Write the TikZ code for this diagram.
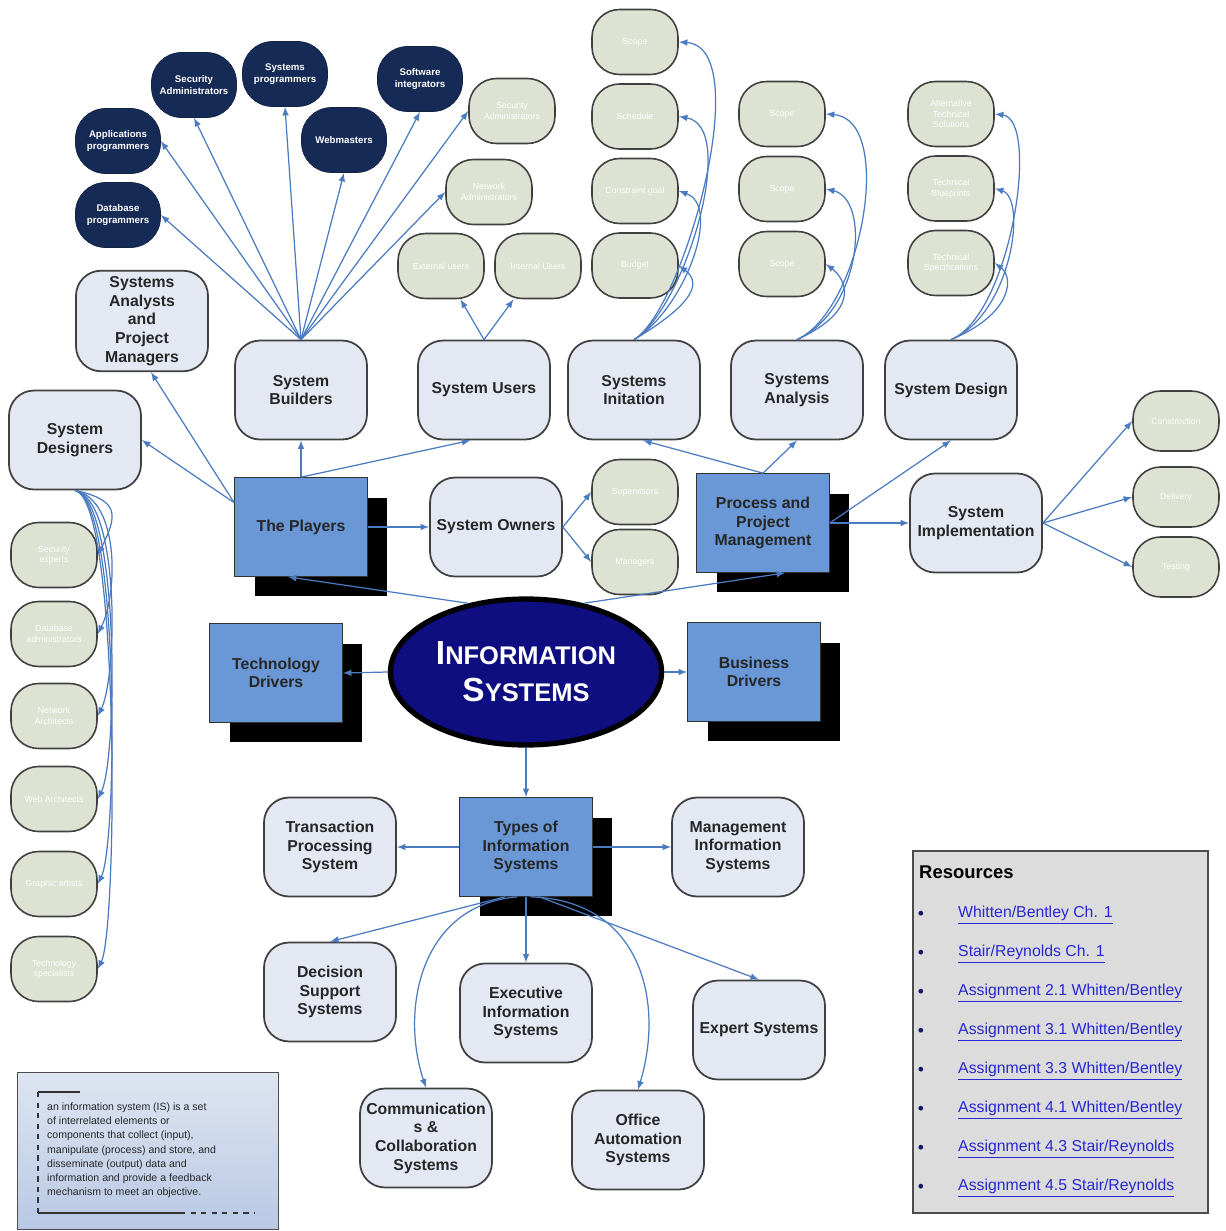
\documentclass[tikz,border=0pt]{standalone}
\usepackage{fontspec}
\setmainfont{Liberation Sans}
\usetikzlibrary{shapes.geometric,shadows}

\definecolor{topicblue}{RGB}{106,152,214}
\definecolor{rolefill}{RGB}{228,232,243}
\definecolor{leaffill}{RGB}{221,226,211}
\definecolor{staffnavy}{RGB}{22,42,86}
\definecolor{isnavy}{RGB}{14,14,128}
\definecolor{linkline}{RGB}{74,122,192}
\definecolor{reslink}{RGB}{40,40,210}
\definecolor{resgray}{RGB}{220,220,220}
\definecolor{notetop}{RGB}{222,229,241}
\definecolor{notebottom}{RGB}{184,200,228}

\begin{document}
\begin{tikzpicture}[x=0.02cm, y=-0.02cm]
    \tikzstyle{topic} = [rectangle, draw=black!80, fill=topicblue, minimum width=2.66cm, minimum height=1.98cm, align=center, text=black!85, font=\fontsize{9}{10.6}\selectfont\bfseries, drop shadow={shadow xshift=0.4cm, shadow yshift=-0.4cm, fill=black, opacity=1}]
    \tikzstyle{role} = [rectangle, rounded corners=0.5cm, draw=black!75, line width=1pt, fill=rolefill, minimum width=2.64cm, minimum height=1.98cm, align=center, text=black!85, font=\fontsize{9}{10.6}\selectfont\bfseries]
    \tikzstyle{leaf} = [rectangle, rounded corners=0.55cm, draw=black!75, line width=0.9pt, fill=leaffill, minimum width=1.72cm, minimum height=1.3cm, align=center, text=white, font=\fontsize{5}{6}\selectfont]
    \tikzstyle{staff} = [rectangle, rounded corners=0.6cm, draw=staffnavy!80!black, fill=staffnavy, minimum width=1.7cm, minimum height=1.3cm, align=center, text=white, font=\fontsize{5.5}{6.6}\selectfont\bfseries]
    \tikzstyle{arrow} = [->, >=latex, draw=linkline, line width=0.7pt]

    \useasboundingbox (0,0) rectangle (1225,1231);

    % centre
    \node[ellipse, draw=black, line width=3pt, fill=isnavy, minimum width=4.44cm, minimum height=2.92cm, text=white, align=center, font=\fontsize{14.5}{21}\selectfont\bfseries] (infosys) at (526,672)
        {{\fontsize{19}{21}\selectfont I}NFORMATION\\{\fontsize{19}{21}\selectfont S}YSTEMS};

    % blue topics
    \node[topic] (players) at (301,527) {The Players};
    \node[topic] (ppm) at (763,523) {Process and\\Project\\Management};
    \node[topic] (techdrv) at (276,673) {Technology\\Drivers};
    \node[topic] (busdrv) at (754,672) {Business\\Drivers};
    \node[topic] (types) at (526,847) {Types of\\Information\\Systems};

    % roles
    \node[role] (analysts) at (142,321) {Systems\\Analysts\\and\\Project\\Managers};
    \node[role] (builders) at (301,390) {System\\Builders};
    \node[role] (users) at (484,390) {System Users};
    \node[role] (init) at (634,390) {Systems\\Initation};
    \node[role] (analysis) at (797,390) {Systems\\Analysis};
    \node[role] (design) at (951,390) {System Design};
    \node[role] (designers) at (75,440) {System\\Designers};
    \node[role] (owners) at (496,527) {System Owners};
    \node[role] (impl) at (976,523) {System\\Implementation};

    % kinds of systems
    \node[role] (tps) at (330,847) {Transaction\\Processing\\System};
    \node[role] (mis) at (738,847) {Management\\Information\\Systems};
    \node[role] (dss) at (330,992) {Decision\\Support\\Systems};
    \node[role] (eis) at (526,1013) {Executive\\Information\\Systems};
    \node[role] (expert) at (759,1030) {Expert Systems};
    \node[role] (comm) at (426,1138) {Communication\\s \&\\Collaboration\\Systems};
    \node[role] (office) at (638,1140) {Office\\Automation\\Systems};

    % builders
    \node[staff] (dbprog) at (118,215) {Database\\programmers};
    \node[staff] (appprog) at (118,141) {Applications\\programmers};
    \node[staff] (secadm) at (194,85) {Security\\Administrators};
    \node[staff] (sysprog) at (285,74) {Systems\\programmers};
    \node[staff] (webm) at (344,140) {Webmasters};
    \node[staff] (softint) at (420,79) {Software\\integrators};
    \node[leaf] (secadmin) at (512,111) {Security\\Administrators};
    \node[leaf] (netadmin) at (489,192) {Network\\Administrators};

    % users and owners
    \node[leaf] (extusers) at (441,266) {External users};
    \node[leaf] (intusers) at (538,266) {Internal Users};
    \node[leaf] (superv) at (635,492) {Supervisors};
    \node[leaf] (managers) at (635,562) {Managers};

    % phases
    \foreach \lbl [count=\i] in {Scope, Schedule, Constraint goal, Budget}
        \node[leaf] (ini\i) at (635, {42+74.5*(\i-1)}) {\lbl};
    \foreach \lbl [count=\i] in {Scope, Scope, Scope}
        \node[leaf] (ana\i) at (782, {114+75*(\i-1)}) {\lbl};
    \foreach \lbl [count=\i] in {{Alternative\\Technical\\Solutions}, {Technical\\Blueprints}, {Technical\\Specifications}}
        \node[leaf] (des\i) at (951, {114+74.5*(\i-1)}) {\lbl};
    \foreach \y/\lbl [count=\i] in {421/Construction, 497/Delivery, 567/Testing}
        \node[leaf, minimum height=1.2cm] (imp\i) at (1176,\y) {\lbl};

    % designers column
    \foreach \y/\lbl [count=\i] in {555/{Security\\experts}, 634/{Database\\administrators}, 716/{Network\\Architects}, 799/{Web Architects}, 884/{Graphic artists}, 969/{Technology\\specialists}}
        \node[leaf] (spec\i) at (54,\y) {\lbl};

    % connectors
    \draw[arrow] (infosys.130) -- (players.-105);
    \draw[arrow] (infosys.50) -- (ppm.-66);
    \draw[arrow] (infosys.west) -- (techdrv.east);
    \draw[arrow] (infosys.east) -- (busdrv.west);
    \draw[arrow] (infosys.south) -- (types.north);

    \draw[arrow] (players.north) -- (builders.south);
    \draw[arrow] (players.north) -- (users.255);
    \draw[arrow] (players.160) -- (analysts.-80);
    \draw[arrow] (players.160) -- (designers.east);
    \draw[arrow] (players.east) -- (owners.west);

    \foreach \n in {dbprog.east, appprog.east, secadm.south, sysprog.south, webm.south, softint.south, secadmin.west, netadmin.west}
        \draw[arrow] (builders.north) -- (\n);
    \draw[arrow] (users.north) -- (extusers);
    \draw[arrow] (users.north) -- (intusers);
    \draw[arrow] (owners.east) -- (superv.west);
    \draw[arrow] (owners.east) -- (managers.west);

    \draw[arrow] (ppm.north) -- (init.-80);
    \draw[arrow] (ppm.north) -- (analysis.south);
    \draw[arrow] (ppm.east) -- (design.south);
    \draw[arrow] (ppm.east) -- (impl.west);
    \foreach \i in {1,2,3}
        \draw[arrow] (impl.east) -- (imp\i.west);

    % fans into the phase details
    \foreach \i in {1,...,4}
        \draw[arrow] (init.north) .. controls +(50,-30) and +({10+17*(5-\i)},{5*\i}) .. (ini\i.east);
    \foreach \i in {1,2,3}
        \draw[arrow] (analysis.north) .. controls +(65,-30) and +({20+25*(3-\i)},{5*\i}) .. (ana\i.east);
    \foreach \i in {1,2,3}
        \draw[arrow] (design.north) .. controls +(60,-25) and +({20+13*(3-\i)},{5*\i}) .. (des\i.east);
    \foreach \i in {1,...,6}
        \draw[arrow] (designers.south) .. controls +(45,10) and +(20,-40) .. (spec\i.east);

    \draw[arrow] (types.west) -- (tps.east);
    \draw[arrow] (types.east) -- (mis.west);
    \draw[arrow] (types.-113) -- (dss.north);
    \draw[arrow] (types.south) -- (eis.north);
    \draw[arrow] (types.-75) -- (expert.north);
    \draw[arrow] (types.-100) .. controls (420,905) and (400,1010) .. (comm.north);
    \draw[arrow] (types.-85) .. controls (640,900) and (665,1000) .. (office.north);

    % resources
    \node[draw=black!70, line width=1pt, fill=resgray, minimum width=5.9cm, minimum height=7.24cm, anchor=north west] (resbox) at (912,850) {};
    \node[anchor=west, font=\fontsize{10.5}{12}\selectfont\bfseries] (restitle) at (913,872) {Resources};
    \foreach \res [count=\i] in {{Whitten/Bentley Ch. 1}, {Stair/Reynolds Ch. 1}, {Assignment 2.1 Whitten/Bentley}, {Assignment 3.1 Whitten/Bentley}, {Assignment 3.3 Whitten/Bentley}, {Assignment 4.1 Whitten/Bentley}, {Assignment 4.3 Stair/Reynolds}, {Assignment 4.5 Stair/Reynolds}} {
        \node[font=\fontsize{10}{11}\selectfont, text=reslink!50!black] (dot\i) at (921, {915+39*(\i-1)}) {\textbullet};
        \node[anchor=west, font=\fontsize{9}{11}\selectfont, text=reslink] (res\i) at (952, {915+39*(\i-1)}) {\underline{\res}};
    }

    % definition note
    \node[draw=black!70, line width=0.8pt, top color=notetop, bottom color=notebottom, minimum width=5.22cm, minimum height=3.14cm, anchor=north west] (notebox) at (17,1072) {};
    \node[anchor=north west, align=left, text=black!85, font=\fontsize{6}{8}\selectfont] (notetext) at (41,1097)
        {an information system (IS) is a set\\of interrelated elements or\\components that collect  (input),\\manipulate (process) and store, and\\disseminate (output) data and\\information and provide a feedback\\mechanism to meet an objective.};
    \draw[black!80, line width=0.8pt] (38,1092) -- (80,1092);
    \draw[black!80, line width=0.8pt, dashed] (38,1092) -- (38,1213);
    \draw[black!80, line width=0.8pt] (38,1213) -- (180,1213);
    \draw[black!80, line width=0.8pt, dashed] (180,1213) -- (255,1213);
\end{tikzpicture}
\end{document}
